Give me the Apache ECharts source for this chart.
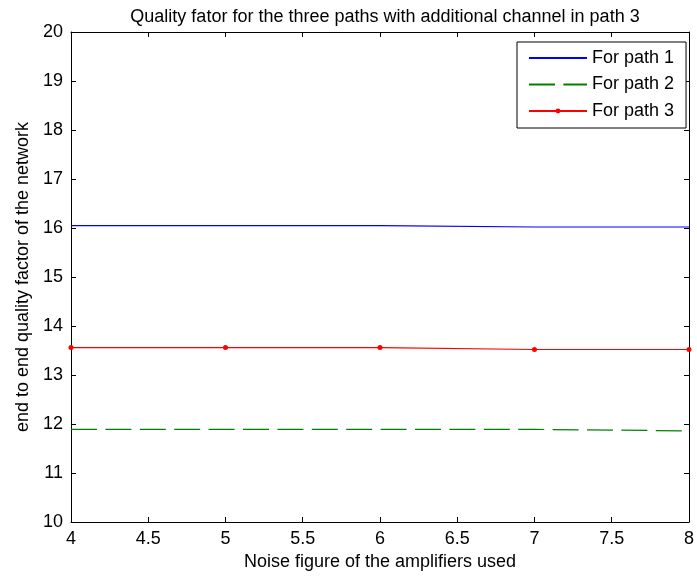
<!DOCTYPE html>
<html>
<head>
<meta charset="utf-8">
<script src="https://cdn.jsdelivr.net/npm/echarts@6/dist/echarts.min.js"></script>
<style>
  html, body { margin: 0; padding: 0; background: #fff; }
  #chart { width: 697px; height: 579px; }
</style>
</head>
<body>
<div id="chart"></div>
<script>
// Noise figure of the amplifiers (x) and end-to-end Q factor for each path
var noiseFigure = [4, 5, 6, 7, 8];
var path1 = [16.05, 16.05, 16.05, 16.02, 16.02];
var path2 = [11.89, 11.89, 11.89, 11.89, 11.86];
var path3 = [13.56, 13.56, 13.56, 13.52, 13.52];
var seriesNames = ['For path 1', 'For path 2', 'For path 3'];

var FONT = '"Liberation Sans", Arial, sans-serif';
var FS = 18;

function pairs(ys) {
  return noiseFigure.map(function (x, i) { return [x, ys[i]]; });
}

var chart = echarts.init(document.getElementById('chart'), null, { renderer: 'canvas' });

var axisLine = { show: true, lineStyle: { color: '#000', width: 1 } };
var tick = { show: true, inside: true, length: 5, lineStyle: { color: '#000' } };
var txt = { fontFamily: FONT, fontSize: FS, color: '#000' };

chart.setOption({
  backgroundColor: '#fff',
  animation: false,
  title: {
    text: 'Quality fator for the three paths with additional channel in path 3',
    left: 380, top: 3, textAlign: 'center',
    textStyle: { fontFamily: FONT, fontSize: FS, fontWeight: 'normal', color: '#000' }
  },
  grid: { left: 71, right: 7, top: 32, bottom: 57 },
  legend: {
    orient: 'vertical',
    left: 517, top: 42,
    data: [
      { name: seriesNames[0], itemStyle: { opacity: 0 } },
      { name: seriesNames[1], itemStyle: { opacity: 0 } },
      { name: seriesNames[2] }
    ],
    itemWidth: 58, itemHeight: 6, itemGap: 8.5,
    padding: [7, 12, 8, 11],
    backgroundColor: '#fff',
    borderColor: '#000', borderWidth: 1, borderRadius: 0,
    textStyle: txt
  },
  xAxis: [{
    type: 'value', min: 4, max: 8, interval: 0.5,
    name: 'Noise figure of the amplifiers used',
    nameLocation: 'middle', nameGap: 30,
    nameTextStyle: txt,
    axisLine: axisLine, axisTick: tick,
    axisLabel: Object.assign({ margin: 8 }, txt),
    splitLine: { show: false }
  }, {
    type: 'value', min: 4, max: 8, interval: 0.5, position: 'top',
    axisLine: axisLine, axisTick: tick, axisLabel: { show: false }, splitLine: { show: false }
  }],
  yAxis: [{
    type: 'value', min: 10, max: 20, interval: 1,
    name: 'end to end quality factor of the network',
    nameLocation: 'middle', nameGap: 37, nameRotate: 90,
    nameTextStyle: txt,
    axisLine: axisLine, axisTick: tick,
    axisLabel: Object.assign({ margin: 8 }, txt),
    splitLine: { show: false }
  }, {
    type: 'value', min: 10, max: 20, interval: 1, position: 'right',
    axisLine: axisLine, axisTick: tick, axisLabel: { show: false }, splitLine: { show: false }
  }],
  series: [{
    name: seriesNames[0], type: 'line', data: pairs(path1),
    symbol: 'none', color: '#0000ff',
    lineStyle: { color: '#0000ff', width: 1.2 }
  }, {
    name: seriesNames[1], type: 'line', data: pairs(path2),
    symbol: 'none', color: '#008000',
    lineStyle: { color: '#008000', width: 1.2, type: [26, 8.4] }
  }, {
    name: seriesNames[2], type: 'line', data: pairs(path3),
    symbol: 'circle', symbolSize: 5, color: '#ff0000',
    itemStyle: { color: '#ff0000' },
    lineStyle: { color: '#ff0000', width: 1.2 }
  }]
});
</script>
</body>
</html>
